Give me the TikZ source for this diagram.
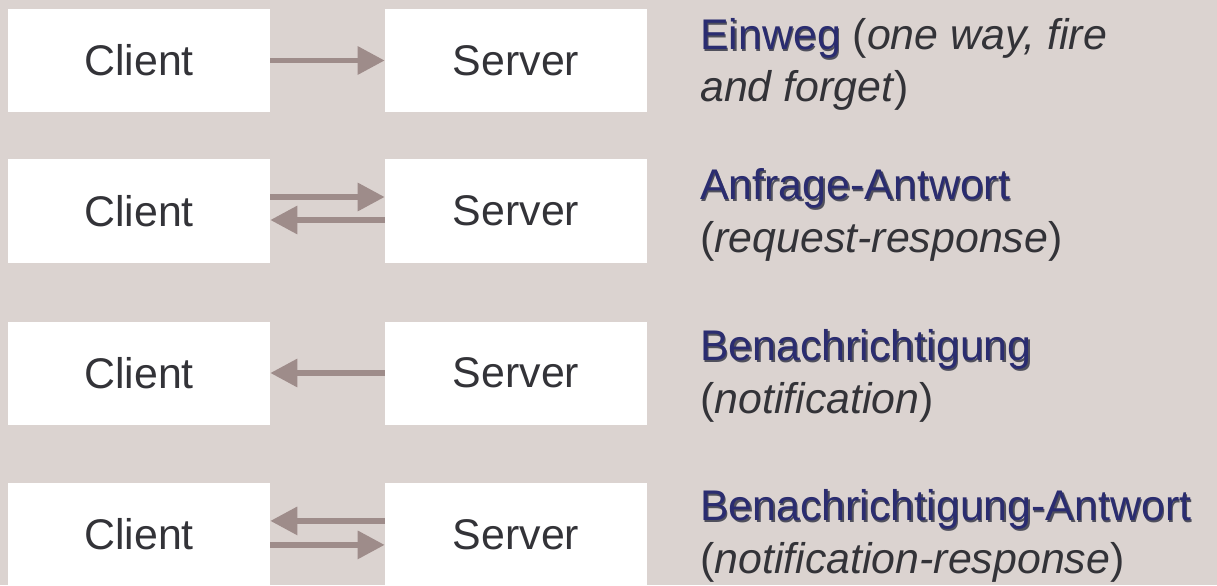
\documentclass[tikz,border=0pt]{standalone}
\usepackage{fontspec}
\setmainfont{Liberation Sans}
\usetikzlibrary{arrows.meta}

\definecolor{bgcol}{RGB}{219,211,208}
\definecolor{arrcol}{RGB}{158,140,138}
\definecolor{headblue}{RGB}{42,44,112}
\definecolor{txtgray}{RGB}{51,51,56}
\definecolor{shadgray}{RGB}{80,80,92}

\newcommand{\headtxt}[1]{\rlap{\kern1pt\raisebox{-1pt}{\color{shadgray}#1}}{\color{headblue}#1}}

\tikzset{
	box/.style={fill=white, minimum width=6.55cm, minimum height=2.575cm, inner sep=0pt, text=txtgray, font=\fontsize{30.5}{37}\selectfont},
	msg/.style={draw=arrcol, line width=4.2pt, -{Triangle[length=0.675cm,width=0.675cm]}},
	desc/.style={anchor=base west, align=left, inner sep=0pt, text=txtgray, font=\fontsize{30.5}{37}\selectfont}
}

\begin{document}
\begin{tikzpicture}
	\useasboundingbox (0,0) rectangle (30.425,14.625);
	\fill[bgcol] (0,0) rectangle (30.425,14.625);

	% Einweg
	\node[box] (c1) at (3.475,13.1125) {Client};
	\node[box] (s1) at (12.9,13.1125) {Server};
	\draw[msg] (c1) -- (s1);
	\node[desc] (d1) at (17.5,12.075) {\headtxt{Einweg} (\textit{one way, fire}\\\textit{and forget})};

	% Anfrage-Antwort
	\node[box] (c2) at (3.475,9.35) {Client};
	\node[box] (s2) at (12.9,9.35) {Server};
	\draw[msg] ([yshift=0.35cm]c2.east) -- ([yshift=0.35cm]s2.west);
	\draw[msg] ([yshift=-0.225cm]s2.west) -- ([yshift=-0.225cm]c2.east);
	\node[desc] (d2) at (17.5,8.325) {\headtxt{Anfrage-Antwort}\\(\textit{request-response})};

	% Benachrichtigung
	\node[box] (c3) at (3.475,5.3) {Client};
	\node[box] (s3) at (12.9,5.3) {Server};
	\draw[msg] (s3) -- (c3);
	\node[desc] (d3) at (17.5,4.3) {\headtxt{Benachrichtigung}\\(\textit{notification})};

	% Benachrichtigung-Antwort
	\node[box] (c4) at (3.475,1.2625) {Client};
	\node[box] (s4) at (12.9,1.2625) {Server};
	\draw[msg] ([yshift=0.34cm]s4.west) -- ([yshift=0.34cm]c4.east);
	\draw[msg] ([yshift=-0.26cm]c4.east) -- ([yshift=-0.26cm]s4.west);
	\node[desc] (d4) at (17.5,0.3) {\headtxt{Benachrichtigung-Antwort}\\(\textit{notification-response})};
\end{tikzpicture}
\end{document}
